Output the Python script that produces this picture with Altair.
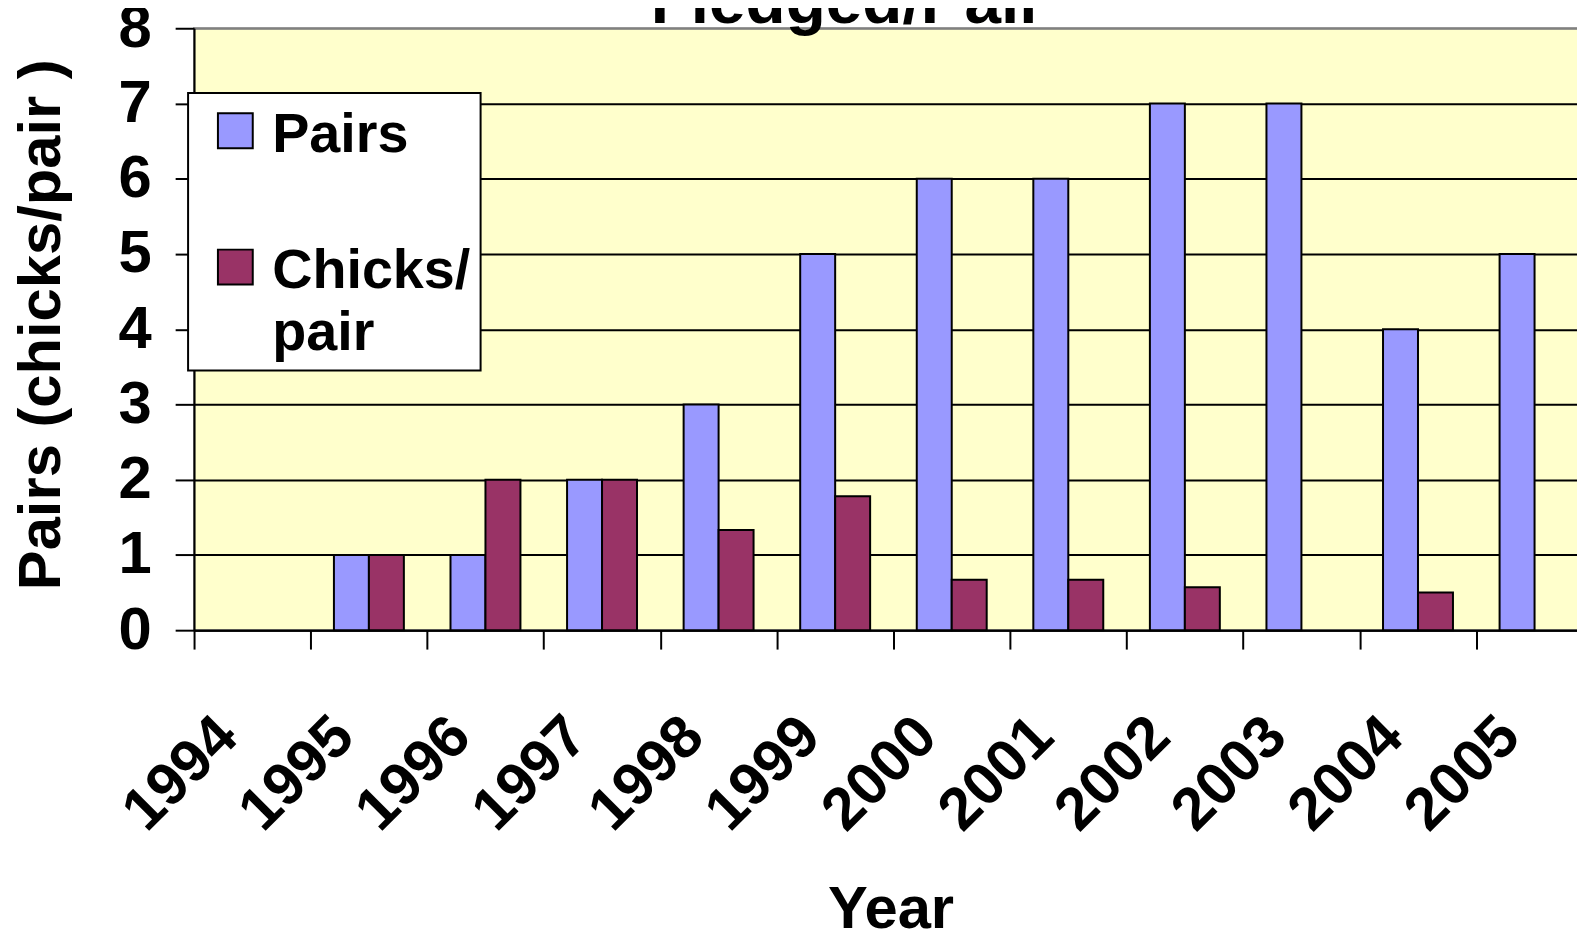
import altair as alt
import pandas as pd

# ---- data ----
years = ["1994", "1995", "1996", "1997", "1998", "1999",
         "2000", "2001", "2002", "2003", "2004", "2005"]
pairs = [None, 1, 1, 2, 3, 5, 6, 6, 7, 7, 4, 5]
chicks_per_pair = [None, 1, 2, 2, 1.33, 1.78, 0.67, 0.67, 0.57, None, 0.5, None]
series_names = ["Pairs", "Chicks/pair"]
series_colors = ["#9999FF", "#993366"]
y_ticks = [0, 1, 2, 3, 4, 5, 6, 7, 8]
title_text = "Fledged/Pair"
x_title = "Year"
y_title = "Pairs (chicks/pair )"

rows = []
for yr, p, c in zip(years, pairs, chicks_per_pair):
    if p is not None:
        rows.append({"year": yr, "series": series_names[0], "value": p})
    if c is not None:
        rows.append({"year": yr, "series": series_names[1], "value": c})
df = pd.DataFrame(rows)

FONT = "Liberation Sans"
STEP = 117.16
PLOT_W = STEP * len(years)          # the plot runs past the right edge of the page
PAD_LEFT = 187
PAD_RIGHT = 1577 - PAD_LEFT - PLOT_W  # negative: clip the plot at the page edge
PLOT_H = 605
LABEL_DY = 4

bars = alt.Chart(df).mark_bar(stroke="black", strokeWidth=2).encode(
    x=alt.X(
        "year:N",
        sort=years,
        scale=alt.Scale(domain=years, paddingInner=0.4, paddingOuter=0.2, round=False),
        axis=alt.Axis(
            title=x_title,
            titleFont=FONT, titleFontSize=60, titleFontWeight="bold", titleColor="black",
            titleX=700, titleY=299, titleAlign="center", titleBaseline="alphabetic",
            titleAnchor="start",
            labelFont=FONT, labelFontSize=60, labelFontWeight="bold", labelColor="black",
            labelAngle=315, labelAlign="right", labelBaseline="middle",
            labelPadding=75, labelOffset=STEP / 2 - 28, tickOffset=-STEP / 2,
            tickSize=19, tickColor="black", tickWidth=2,
            domainColor="black", domainWidth=2, grid=False,
            labelOverlap=False, labelBound=False, labelFlush=False,
        ),
    ),
    xOffset=alt.XOffset("series:N", sort=series_names,
                        scale=alt.Scale(domain=series_names)),
    y=alt.Y(
        "value:Q",
        scale=alt.Scale(domain=[0, 8], nice=False),
        axis=alt.Axis(
            values=y_ticks, format="d",
            title=y_title,
            titleFont=FONT, titleFontSize=60, titleFontWeight="bold", titleColor="black",
            titleAngle=270, titleX=-135, titleY=297.5, titleAlign="center",
            titleBaseline="alphabetic", titleAnchor="start",
            labelFont=FONT, labelFontSize=60, labelFontWeight="bold", labelColor="black",
            labelPadding=24, labelOffset=-LABEL_DY,
            tickSize=19, tickColor="black", tickWidth=2,
            domainColor="black", domainWidth=2,
            grid=True,
            gridColor={"condition": {"test": "datum.value === 8", "value": "#808080"},
                       "value": "black"},
            gridWidth=2,
        ),
    ),
    color=alt.Color(
        "series:N",
        sort=series_names,
        scale=alt.Scale(domain=series_names, range=series_colors),
        legend=alt.Legend(
            orient="none", legendX=-6, legendY=65, title=None,
            fillColor="white", strokeColor="black", padding=10,
            symbolType="square", symbolSize=1225, symbolStrokeColor="black",
            symbolStrokeWidth=2, symbolOffset=9.5, symbolOpacity=1,
            labelOffset=9, labelFont=FONT, labelFontSize=56, labelFontWeight="bold",
            labelColor="black", labelLimit=500, rowPadding=77,
            labelExpr="datum.label == 'Chicks/pair' ? ['Chicks/', 'pair'] : datum.label",
        ),
    ),
)

title = alt.Chart(pd.DataFrame({"t": [title_text]})).mark_text(
    font=FONT, fontSize=66, fontWeight="bold", color="black",
    align="center", baseline="alphabetic",
).encode(x=alt.value(657), y=alt.value(-5.3), text="t:N")

chart = alt.layer(bars, title).properties(
    width=PLOT_W, height=PLOT_H,
    autosize=alt.AutoSizeParams(type="none"),
    padding={"left": PAD_LEFT, "top": 18, "right": PAD_RIGHT, "bottom": 300},
    background="white",
).configure(
    font=FONT,
    style={"guide-label": {"dy": LABEL_DY, "lineHeight": 62}},
).configure_view(
    fill="#FFFFCC", stroke="#808080", strokeWidth=2,
).configure_legend(
    strokeWidth=2,
)

chart.save("out.html", embed_options={"renderer": "svg", "actions": False})
